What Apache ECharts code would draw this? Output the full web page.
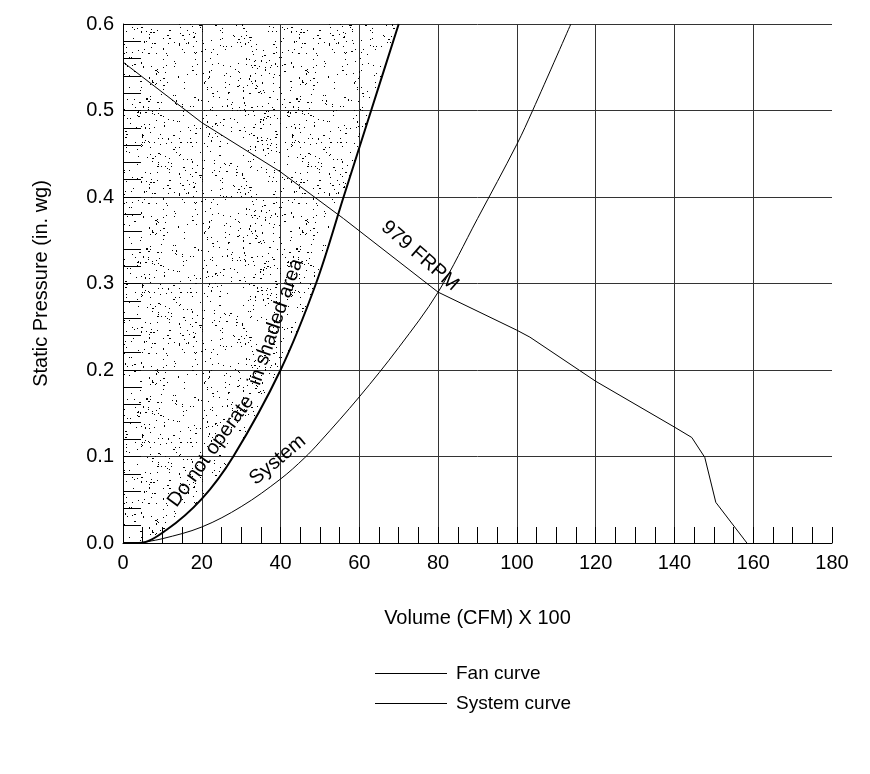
<!DOCTYPE html>
<html>
<head>
<meta charset="utf-8">
<script src="https://cdn.jsdelivr.net/npm/echarts@6/dist/echarts.min.js"></script>
<style>
html,body{margin:0;padding:0;background:#fff;}
#chart{width:870px;height:774px;}
</style>
</head>
<body>
<div id="chart"></div>
<script>
// values (x = CFM/100, y = in. wg)
var fanX = [0, 20, 40, 56, 80, 100, 103.3, 120, 140, 144.4, 147.7, 150.5, 158.4];
var fanY = [0.556, 0.486, 0.429, 0.375, 0.290, 0.246, 0.238, 0.187, 0.134, 0.122, 0.099, 0.047, 0];

var sysX = [4, 10, 20, 30, 40, 46, 50, 60, 70, 80, 90, 100, 104, 113.7];
var sysY = [0, 0.005, 0.0185, 0.042, 0.074, 0.098, 0.117, 0.169, 0.226, 0.290, 0.375, 0.461, 0.5, 0.6];

// edge of the "do not operate" zone
var zoneX = [0, 4, 11, 20, 28, 40, 49, 56, 63, 70];
var zoneY = [0, 0, 0.015, 0.051, 0.1, 0.2, 0.3, 0.4, 0.5, 0.6];

var xTicks = [0, 20, 40, 60, 80, 100, 120, 140, 160, 180];
var yTicks = [0.0, 0.1, 0.2, 0.3, 0.4, 0.5, 0.6];

var notes = [
	{text: 'Do not operate', x: 22.3, y: 0.106, angle: 54},
	{text: 'in shaded area', x: 38.8, y: 0.2555, angle: 71},
	{text: 'System', x: 39.3, y: 0.096, angle: 40},
	{text: '979 FRPM', x: 75.4, y: 0.332, angle: -41}
];

function pairs(xs, ys){
	var out = [];
	for(var i=0;i<xs.length;i++){
		out.push([xs[i], ys[i]]);
	}
	return out;
}

// stipple texture for the shaded area (fixed hash, same every run)
function stipple(){
	var size = 150;
	var c = document.createElement('canvas');
	c.width = size; c.height = size;
	var g = c.getContext('2d');
	g.fillStyle = '#000';
	var s = 987654321;
	function next(){
		s ^= s << 13; s ^= s >>> 17; s ^= s << 5;
		return (s >>> 0) / 4294967296;
	}
	for(var i=0;i<560;i++){
		var px = Math.floor(next() * size);
		var py = Math.floor(next() * size);
		var r = next();
		if(r < 0.12) g.fillRect(px, py, 2, 1);
		else if(r < 0.2) g.fillRect(px, py, 1, 2);
		else g.fillRect(px, py, 1, 1);
	}
	return c;
}

var font = "'Liberation Sans', Arial, sans-serif";
var myChart = echarts.init(document.getElementById('chart'));

var option = {
	animation: false,
	backgroundColor: '#fff',
	textStyle: {fontFamily: font, color: '#000'},
	grid: {left: 123, right: 38, top: 24, bottom: 231},
	legend: {
		orient: 'vertical',
		left: 370,
		top: 659,
		icon: 'rect',
		itemWidth: 72,
		itemHeight: 1,
		itemGap: 11,
		data: ['Fan curve', 'System curve'],
		textStyle: {fontFamily: font, fontSize: 19, color: '#000', padding: [0, 0, 0, 4]}
	},
	xAxis: {
		type: 'value',
		min: xTicks[0],
		max: xTicks[xTicks.length-1],
		interval: 20,
		name: 'Volume (CFM) X 100',
		nameLocation: 'middle',
		nameGap: 65,
		nameTextStyle: {fontFamily: font, fontSize: 20, color: '#000'},
		axisLine: {lineStyle: {color: '#000', width: 1}},
		axisTick: {show: true, inside: true, length: 16, lineStyle: {color: '#000'}},
		minorTick: {show: true, splitNumber: 4, length: 16, lineStyle: {color: '#000'}},
		axisLabel: {fontFamily: font, fontSize: 20, color: '#000', margin: 10},
		splitLine: {show: true, showMaxLine: false, lineStyle: {color: '#333', width: 1}}
	},
	yAxis: {
		type: 'value',
		min: yTicks[0],
		max: yTicks[yTicks.length-1],
		interval: 0.1,
		name: 'Static Pressure (in. wg)',
		nameLocation: 'middle',
		nameGap: 72,
		nameTextStyle: {fontFamily: font, fontSize: 20, color: '#000'},
		axisLine: {show: true, lineStyle: {color: '#000', width: 1}},
		axisTick: {show: true, inside: true, length: 18, lineStyle: {color: '#000'}},
		minorTick: {show: true, splitNumber: 5, length: 18, lineStyle: {color: '#000'}},
		axisLabel: {fontFamily: font, fontSize: 20, color: '#000', margin: 9,
			formatter: function(v){ return v.toFixed(1); }},
		splitLine: {show: true, lineStyle: {color: '#333', width: 1}}
	},
	series: [
		{
			name: 'zone',
			type: 'line',
			data: pairs(zoneX, zoneY),
			symbol: 'none',
			smooth: 0.35,
			lineStyle: {color: '#000', width: 2},
			areaStyle: {origin: 'end', opacity: 1, color: {image: stipple(), repeat: 'repeat'}},
			silent: true
		},
		{
			name: 'Fan curve',
			type: 'line',
			data: pairs(fanX, fanY),
			symbol: 'none',
			smooth: false,
			itemStyle: {color: '#000'},
			lineStyle: {color: '#000', width: 1}
		},
		{
			name: 'System curve',
			type: 'line',
			data: pairs(sysX, sysY),
			symbol: 'none',
			smooth: 0.35,
			itemStyle: {color: '#000'},
			lineStyle: {color: '#000', width: 1}
		}
	]
};
myChart.setOption(option);

// rotated curve notes placed at data coordinates
var texts = [];
for(var i=0;i<notes.length;i++){
	var p = myChart.convertToPixel({gridIndex: 0}, [notes[i].x, notes[i].y]);
	texts.push({
		type: 'text',
		x: p[0],
		y: p[1],
		rotation: notes[i].angle * Math.PI / 180,
		style: {
			text: notes[i].text,
			font: '20px ' + font,
			fill: '#000',
			align: 'center',
			verticalAlign: 'middle'
		},
		z: 100
	});
}
myChart.setOption({graphic: texts});
</script>
</body>
</html>
